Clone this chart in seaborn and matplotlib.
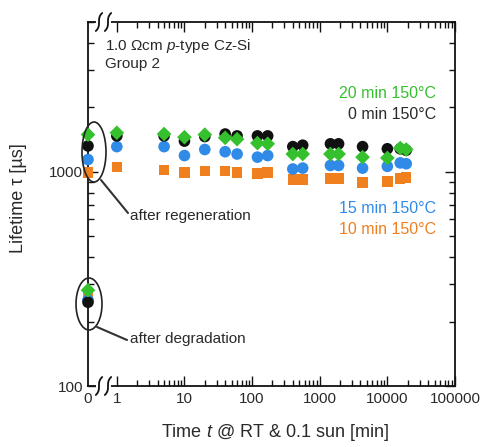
import numpy as np
import pandas as pd
import matplotlib
matplotlib.use("Agg")
import matplotlib.pyplot as plt
import matplotlib.ticker as mticker
from matplotlib.patches import Ellipse, Rectangle
import seaborn as sns

## data
time_min = [1, 5, 10, 20, 40, 60, 120, 170, 400, 560, 1440, 1900, 4300, 10000, 15500, 19000]
tau_20min = [1520, 1500, 1450, 1490, 1440, 1420, 1360, 1350, 1210, 1210, 1210, 1210, 1170, 1160, 1290, 1270]
tau_0min = [1470, 1470, 1390, 1460, 1500, 1470, 1470, 1470, 1310, 1330, 1350, 1350, 1310, 1280, 1280, 1260]
tau_15min = [1310, 1310, 1190, 1270, 1240, 1210, 1170, 1190, 1030, 1040, 1070, 1070, 1040, 1060, 1100, 1090]
tau_10min = [1055, 1020, 990, 1010, 1010, 990, 980, 990, 920, 920, 930, 930, 890, 900, 930, 940]

# values at t = 0 (after regeneration / after degradation)
regen_t0 = {"20": 1490, "0": 1320, "15": 1140, "10": 990}
degr_t0 = {"20": 280, "0": 246, "15": 252, "10": 258}

series_keys = ["10", "15", "0", "20"]
series_labels = {"20": "20 min 150°C", "0": "0 min 150°C", "15": "15 min 150°C", "10": "10 min 150°C"}
series_tau = {"20": tau_20min, "0": tau_0min, "15": tau_15min, "10": tau_10min}

colors = {"20": "#35c02e", "0": "#111111", "15": "#2f8ae8", "10": "#f07f1e"}
markers = {"20": "D", "0": "o", "15": "o", "10": "s"}
sizes = {"20": 56, "0": 70, "15": 70, "10": 56}

x0 = 0.375  # where "0" sits on the broken log axis

###############################################################################

sns.set_style("ticks")
plt.rcParams["font.family"] = ["Liberation Sans", "DejaVu Sans"]
plt.rcParams["mathtext.fontset"] = "custom"
plt.rcParams["mathtext.rm"] = "Liberation Sans"
plt.rcParams["mathtext.it"] = "Liberation Sans:italic"

fig = plt.figure(figsize=(4.84, 4.47), dpi=100)
ax = fig.add_axes([88 / 484, 61 / 447, 367 / 484, 364 / 447])

for k in series_keys:
    xs = [x0, x0] + time_min
    ys = [degr_t0[k], regen_t0[k]] + series_tau[k]
    df = pd.DataFrame({"t": xs, "tau": ys})
    sns.scatterplot(data=df, x="t", y="tau", ax=ax, color=colors[k], marker=markers[k],
                    s=sizes[k], edgecolor="none", linewidth=0, clip_on=False, zorder=4,
                    legend=False)

ax.set_xscale("log")
ax.set_yscale("log")
ax.set_xlim(x0, 1e5)
ax.set_ylim(100, 5000)

text_col = "#2a2a2a"
xt = [x0, 1, 10, 100, 1000, 10000, 100000]
ax.xaxis.set_major_locator(mticker.FixedLocator(xt))
ax.xaxis.set_major_formatter(mticker.FixedFormatter(["0", "1", "10", "100", "1000", "10000", "100000"]))
minors = [m * 10 ** e for e in range(0, 5) for m in range(2, 10)]
ax.xaxis.set_minor_locator(mticker.FixedLocator(minors))
ax.xaxis.set_minor_formatter(mticker.NullFormatter())
ax.yaxis.set_major_locator(mticker.FixedLocator([100, 1000]))
ax.yaxis.set_major_formatter(mticker.FixedFormatter(["100", "1000"]))
ax.yaxis.set_minor_locator(mticker.LogLocator(base=10, subs=np.arange(2, 10)))
ax.yaxis.set_minor_formatter(mticker.NullFormatter())

ax.tick_params(which="both", direction="in", top=True, right=True, colors="#111111",
               labelcolor=text_col, labelsize=11, width=1)
ax.tick_params(which="major", length=7)
ax.tick_params(which="minor", length=4)
ax.tick_params(axis="x", pad=4)
t0 = ax.xaxis.get_major_ticks()[0]
t0.tick1line.set_visible(False)
t0.tick2line.set_visible(False)

for sp in ax.spines.values():
    sp.set_linewidth(1.3)
    sp.set_color("#111111")

ax.set_xlabel("Time $\\it{t}$ @ RT & 0.1 sun [min]", fontsize=13, color=text_col)
ax.set_ylabel("Lifetime τ [µs]", fontsize=13, color=text_col)
ax.xaxis.set_label_coords(0.51, -0.098)
ax.yaxis.set_label_coords(-0.165, 0.515)


# pixel helpers for annotations
def px(x, y):
    return ((x - 88) / 367, (386 - y) / 364)


# axis break marks
for ybase in (22, 386):
    xa, ya = px(96, ybase + 3)
    xb, _ = px(111, ybase)
    ax.add_patch(Rectangle((xa, ya), xb - xa, 6 / 364, transform=ax.transAxes,
                           facecolor="white", edgecolor="none", clip_on=False, zorder=5))
    for xc in (99, 108):
        s = np.linspace(-1, 1, 40)
        xs = xc + 3.2 * s ** 3
        ys = ybase - 9 * s
        pts = [px(a, b) for a, b in zip(xs, ys)]
        ax.plot([p[0] for p in pts], [p[1] for p in pts], transform=ax.transAxes,
                color="#111111", lw=1.3, clip_on=False, zorder=6)

# ellipses + leader lines
cx, cy = px(94, 152)
ax.add_patch(Ellipse((cx, cy), 24 / 367, 60 / 364, transform=ax.transAxes, fill=False,
                     edgecolor="#222222", lw=1.2, clip_on=False, zorder=5))
cx, cy = px(89, 304)
ax.add_patch(Ellipse((cx, cy), 26 / 367, 52 / 364, transform=ax.transAxes, fill=False,
                     edgecolor="#222222", lw=1.2, clip_on=False, zorder=5))
for (a, b), (c, d) in [((101, 180), (128, 213)), ((97, 327), (127, 340))]:
    p1, p2 = px(a, b), px(c, d)
    ax.plot([p1[0], p2[0]], [p1[1], p2[1]], transform=ax.transAxes, color="#333333",
            lw=1.5, clip_on=False, zorder=5)

tx, ty = px(130, 216)
ax.text(tx, ty, "after regeneration", transform=ax.transAxes, fontsize=11,
        color=text_col, va="center", ha="left")
tx, ty = px(130, 339)
ax.text(tx, ty, "after degradation", transform=ax.transAxes, fontsize=11,
        color=text_col, va="center", ha="left")

tx, ty = px(105, 37)
ax.text(tx, ty, "1.0 Ωcm $\\it{p}$-type Cz-Si\nGroup 2", transform=ax.transAxes,
        fontsize=11, color=text_col, va="top", ha="left", linespacing=1.2)

label_pos = {"20": 93, "0": 114, "15": 208, "10": 229}
for k in ["20", "0", "15", "10"]:
    tx, ty = px(436, label_pos[k])
    ax.text(tx, ty, series_labels[k], transform=ax.transAxes, fontsize=11.5,
            color=colors[k] if k != "0" else text_col, va="center", ha="right")

fig.savefig("out.png", dpi=100)
